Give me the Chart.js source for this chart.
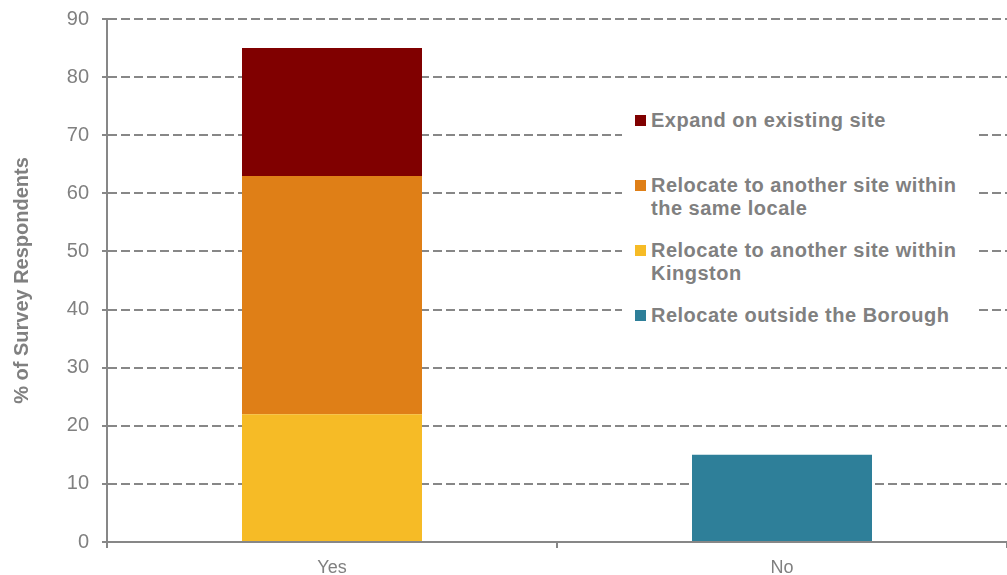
<!DOCTYPE html>
<html>
<head>
<meta charset="utf-8">
<script src="https://cdn.jsdelivr.net/npm/chart.js@4.4.0/dist/chart.umd.min.js"></script>
<style>
  html, body { margin: 0; padding: 0; background: #fff; }
  #wrap { position: relative; width: 1007px; height: 575px; }
  #legend {
    position: absolute; left: 622px; top: 96px; width: 353px; height: 244px;
    background: #fff; padding: 13px 0 0 13px; box-sizing: border-box;
    font-family: "Liberation Sans", Arial, sans-serif; font-weight: bold;
    font-size: 20px; line-height: 23px; color: #808080; letter-spacing: 0.5px;
  }
  .item { display: flex; height: 65px; }
  .box { width: 11px; height: 11px; margin: 6px 5px 0 0; flex: none; }
  .txt { width: 325px; }
</style>
</head>
<body>
<div id="wrap">
  <canvas id="surveyChart"></canvas>
  <div id="legend"></div>
</div>
<script>
// data
const categories = ['Yes', 'No'];
const withinKingston = [22, null];
const sameLocale = [41, null];
const expandSite = [22, null];
const outsideBorough = [null, 15];

const seriesNames = {
  kingston: 'Relocate to another site within Kingston',
  locale: 'Relocate to another site within the same locale',
  expand: 'Expand on existing site',
  outside: 'Relocate outside the Borough'
};

const grey = '#808080';
const lineGrey = '#878787';

const ctx = document.getElementById('surveyChart');
const chart = new Chart(ctx, {
  type: 'bar',
  data: {
    labels: categories,
    datasets: [
      { label: seriesNames.kingston, data: withinKingston, backgroundColor: '#F6BB26' },
      { label: seriesNames.locale, data: sameLocale, backgroundColor: '#DF7F17' },
      { label: seriesNames.expand, data: expandSite, backgroundColor: '#800000' },
      { label: seriesNames.outside, data: outsideBorough, backgroundColor: '#2E7F99' },
    ]
  },
  options: {
    responsive: true,
    maintainAspectRatio: false,
    animation: false,
    layout: { padding: { top: 19, right: 0, left: 0, bottom: 0 } },
    plugins: { legend: { display: false }, tooltip: { enabled: false } },
    datasets: { bar: { barPercentage: 0.4, categoryPercentage: 1.0 } },
    scales: {
      x: {
        stacked: true,
        offset: true,
        afterFit: (s) => { s.height = 33; },
        grid: { offset: true, drawOnChartArea: false, drawTicks: true, tickLength: 6, color: lineGrey, lineWidth: 2 },
        border: { color: lineGrey, width: 2 },
        ticks: { color: grey, padding: 9, font: { family: 'Liberation Sans', size: 18 } }
      },
      y: {
        stacked: true,
        min: 0,
        max: 90,
        afterFit: (s) => { s.width = 107; s.paddingTop = 0; s.paddingBottom = 0; },
        ticks: { stepSize: 10, color: grey, padding: 13, font: { family: 'Liberation Sans', size: 20 } },
        grid: { color: lineGrey, lineWidth: 2, tickLength: 5, tickBorderDash: [] },
        border: { color: lineGrey, width: 2, dash: [9, 4] },
        title: {
          display: true,
          text: '% of Survey Respondents',
          color: grey,
          padding: { top: 10, bottom: 0 },
          font: { family: 'Liberation Sans', size: 20, weight: 'bold' }
        }
      }
    }
  }
});

// legend drawn in html, in the order of the reference
const legendOrder = [2, 1, 0, 3];
const legendEl = document.getElementById('legend');
legendOrder.forEach(i => {
  const ds = chart.data.datasets[i];
  const item = document.createElement('div');
  item.className = 'item';
  item.innerHTML = '<span class="box" style="background:' + ds.backgroundColor + '"></span><span class="txt"></span>';
  item.querySelector('.txt').textContent = ds.label;
  legendEl.appendChild(item);
});
</script>
</body>
</html>
